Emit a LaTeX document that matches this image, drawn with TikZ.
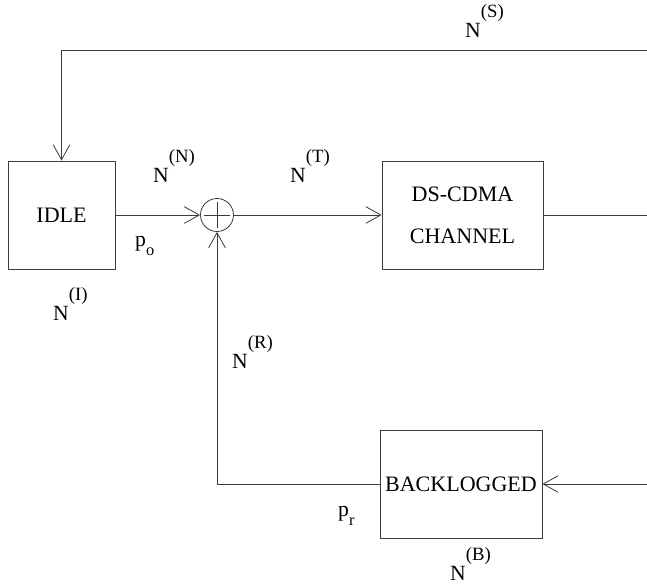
\documentclass[tikz,border=0pt]{standalone}
\usepackage{fontspec}
\setmainfont{Liberation Serif}
\usepackage{xcolor}
\definecolor{linegray}{RGB}{60,60,60}
\usepackage{tikz}
\usetikzlibrary{arrows.meta,positioning,calc}

\newcommand{\Nsup}[1]{N\raisebox{0.92em}{\fontsize{16}{16}\selectfont(#1)}}
\newcommand{\psub}[1]{p\raisebox{-0.45em}{\fontsize{14}{14}\selectfont #1}}

\begin{document}
\begin{tikzpicture}[x=0.03cm, y=-0.03cm,
    every node/.style={font=\fontsize{18.8}{36}\selectfont},
    box/.style={rectangle, draw=linegray, line width=0.7pt, minimum height=3.24cm, inner sep=2pt, align=center},
    wire/.style={draw=linegray, line width=0.7pt},
    flow/.style={wire, -{Straight Barb[length=0.45cm, width=0.5cm]}},
    lab/.style={anchor=base west, inner sep=0pt, font=\fontsize{18.5}{20}\selectfont}]
    \useasboundingbox (0,0) rectangle (647,587);

    \node[box, minimum width=3.21cm] (idle) at (61.5,215) {IDLE};
    \node[circle, draw=linegray, line width=0.7pt, minimum size=0.99cm, inner sep=0pt] (sum) at (217,215) {};
    \node[box, minimum width=4.83cm] (channel) at (462.5,215) {DS-CDMA\\CHANNEL};
    \node[box, minimum width=4.86cm] (backlog) at (461,484) {BACKLOGGED};

    % open ends at the right border
    \coordinate (outT) at (647,215);
    \coordinate (inS) at (647,50);
    \coordinate (inB) at (647,484);

    % plus sign
    \draw[wire] ($(sum.north)+(0,4)$) -- ($(sum.south)+(0,-4)$);
    \draw[wire] ($(sum.west)+(4,0)$) -- ($(sum.east)+(-4,0)$);

    \draw[flow] (idle.east) -- (sum.west);
    \draw[flow] (sum.east) -- (channel.west);
    \draw[wire] (channel.east) -- (outT);
    \draw[flow] (inS) -| (idle.north);
    \draw[flow] (inB) -- (backlog.east);
    \draw[flow] (backlog.west) -| (sum.south);

    % flow labels
    \node[lab] (labS) at (465,37) {\Nsup{S}};
    \node[lab] (labN) at (153,182) {\Nsup{N}};
    \node[lab] (labT) at (290,182) {\Nsup{T}};
    \node[lab] (labI) at (53,320) {\Nsup{I}};
    \node[lab] (labR) at (232,368) {\Nsup{R}};
    \node[lab] (labB) at (450,580) {\Nsup{B}};
    \node[lab] (po) at (135,246) {\psub{o}};
    \node[lab] (pr) at (338,516) {\psub{r}};
\end{tikzpicture}
\end{document}
